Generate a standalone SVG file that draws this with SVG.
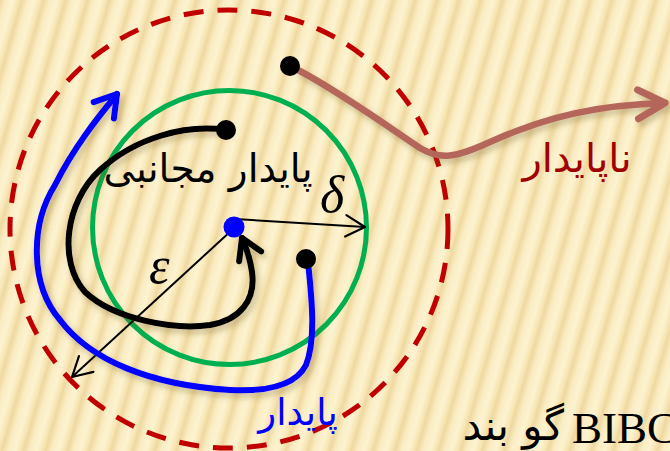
<svg xmlns="http://www.w3.org/2000/svg" width="670" height="451" viewBox="0 0 670 451">
<defs>
<linearGradient id="stripeGrad" x1="0" y1="0" x2="1" y2="0">
<stop offset="0" stop-color="#EFD8A0"/>
<stop offset="0.28" stop-color="#FAEDC4"/>
<stop offset="0.6" stop-color="#FDF3D0"/>
<stop offset="0.85" stop-color="#F7E6B5"/>
<stop offset="1" stop-color="#EFD8A0"/>
</linearGradient>
<pattern id="stripes" width="21" height="40" patternUnits="userSpaceOnUse" patternTransform="rotate(16)">
<rect width="21" height="40" fill="url(#stripeGrad)"/>
</pattern>
<filter id="shadow" x="-10%" y="-10%" width="130%" height="130%">
<feDropShadow dx="3" dy="4" stdDeviation="3" flood-color="#6b5520" flood-opacity="0.35"/>
</filter>
<marker id="thinArrow" markerUnits="userSpaceOnUse" markerWidth="30" markerHeight="30" refX="0" refY="0" viewBox="-24 -14 28 28" orient="auto">
<path d="M-18,-10 L0,0 L-18,10" fill="none" stroke="#000" stroke-width="2" stroke-linecap="round" stroke-linejoin="round"/>
</marker>
<marker id="blueArrow" markerUnits="userSpaceOnUse" markerWidth="40" markerHeight="40" refX="0" refY="0" viewBox="-30 -20 36 40" orient="auto">
<path d="M-21,-13 L0,0 L-21,13" fill="none" stroke="#0000FF" stroke-width="6" stroke-linecap="round" stroke-linejoin="round"/>
</marker>
<marker id="blackArrow" markerUnits="userSpaceOnUse" markerWidth="40" markerHeight="40" refX="0" refY="0" viewBox="-30 -20 36 40" orient="auto">
<path d="M-20,-12 L0,0 L-20,12" fill="none" stroke="#000" stroke-width="6" stroke-linecap="round" stroke-linejoin="round"/>
</marker>
<marker id="brownArrow" markerUnits="userSpaceOnUse" markerWidth="44" markerHeight="44" refX="0" refY="0" viewBox="-34 -22 40 44" orient="auto">
<path d="M-27,-14 L0,0 L-27,15" fill="none" stroke="#B5665A" stroke-width="7" stroke-linecap="round" stroke-linejoin="round"/>
</marker>
</defs>
<style>
.ar{font-family:"DejaVu Sans",sans-serif;}
.lat{font-family:"Liberation Serif",serif;}
.greek{font-family:"Liberation Serif",serif;font-style:italic;font-size:52px;fill:#000;}
.dot{fill:#000;}
.curve{fill:none;stroke-linecap:round;stroke-linejoin:round;}
</style>
<rect width="670" height="451" fill="url(#stripes)"/>

<g id="epsilon-region">
<circle cx="229" cy="229" r="219" fill="none" stroke="#C00000" stroke-width="5" stroke-dasharray="20 14"/>
</g>
<g id="delta-region">
<circle cx="229.5" cy="227.5" r="137" fill="none" stroke="#00B050" stroke-width="5"/>
</g>

<g id="connectors">
<line x1="235" y1="219" x2="365" y2="227" stroke="#000" stroke-width="2" marker-end="url(#thinArrow)"/>
<line x1="232" y1="230" x2="72" y2="377" stroke="#000" stroke-width="2" marker-end="url(#thinArrow)"/>
<g filter="url(#shadow)">
<path class="curve" d="M298,70 C340,92 390,128 420,148 C440,160 455,158 490,142 C550,115 600,105 665,103" stroke="#B5665A" stroke-width="6.5" marker-end="url(#brownArrow)"/>
<path class="curve" d="M226,130 C185,124 135,138 100,170 C65,202 58,262 85,292 C115,320 175,330 210,325 C240,320 256,300 252,272 C250,258 246,247 242,238" stroke="#000" stroke-width="6" marker-end="url(#blackArrow)"/>
<path class="curve" d="M308,262 C312,300 316,340 306,365 C296,385 270,392 230,390 C150,385 90,360 60,320 C30,285 30,225 55,185 C75,145 100,115 117,94" stroke="#0000FF" stroke-width="6" marker-end="url(#blueArrow)"/>
</g>
</g>

<g id="equilibrium">
<circle cx="234" cy="227" r="10.5" fill="#0000FF"/>
</g>
<g id="start-unstable"><circle class="dot" cx="290" cy="66" r="10"/></g>
<g id="start-asymptotic"><circle class="dot" cx="226" cy="130" r="10"/></g>
<g id="start-stable"><circle class="dot" cx="306" cy="259" r="10"/></g>

<g id="label-delta"><text class="greek" x="320" y="212">δ</text></g>
<g id="label-epsilon"><text class="greek" x="149" y="283">ε</text></g>
<g id="label-asymptotic"><text class="ar" x="208" y="182" font-size="39" text-anchor="middle" fill="#000">پایدار مجانبی</text></g>
<g id="label-unstable"><text class="ar" x="577" y="172" font-size="40" text-anchor="middle" fill="#A00000">ناپایدار</text></g>
<g id="label-stable"><text class="ar" x="298" y="425" font-size="37" text-anchor="middle" fill="#0000FF">پایدار</text></g>
<g id="label-bibo">
<text class="ar" x="564" y="440" font-size="42" text-anchor="end" fill="#000">گو بند</text>
<text class="lat" x="572" y="443" font-size="45" fill="#000">BIBC</text>
</g>
</svg>
